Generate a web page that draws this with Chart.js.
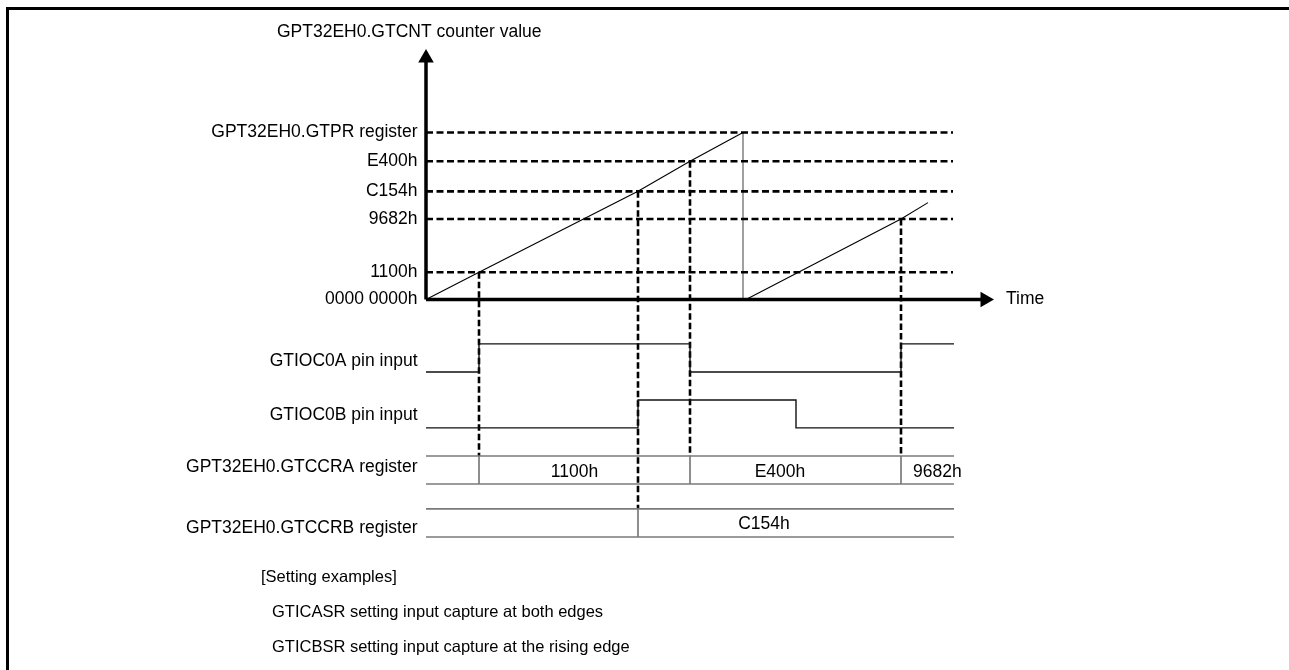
<!DOCTYPE html>
<html>
<head>
<meta charset="utf-8">
<script src="https://cdn.jsdelivr.net/npm/chart.js@4.4.0/dist/chart.umd.min.js"></script>
<style>
html, body { margin: 0; padding: 0; background: #fff; }
#wrap { position: relative; width: 1289px; height: 670px; overflow: hidden; }
#chart { position: absolute; left: 0; top: 0; }
#frame { position: absolute; left: 6px; top: 7px; width: 1400px; height: 800px;
         border-left: 3px solid #000; border-top: 3px solid #000; pointer-events: none; }
</style>
</head>
<body>
<div id="wrap">
  <canvas id="chart" width="1289" height="670"></canvas>
  <div id="frame"></div>
</div>
<script>
// time is in arbitrary units from the origin, counter in % of GTPR
const levelNames = ['GPT32EH0.GTPR register', 'E400h', 'C154h', '9682h', '1100h', '0000 0000h'];
const levelValues = [100, 82.8, 64.8, 48.2, 16.3, 0];

const rampTimes1 = [0, 5.3, 21.2, 26.4, 31.7];
const rampValues1 = [0, 16.3, 64.8, 82.8, 100];
const rampTimes2 = [32.0, 47.5, 50.2];
const rampValues2 = [0, 48.2, 58.0];
const overflowTime = 31.7;

// capture events: time, counter level, register row (0 = GTCCRA, 1 = GTCCRB)
const captureTimes = [5.3, 21.2, 26.4, 47.5];
const captureLevels = [16.3, 64.8, 82.8, 48.2];
const captureRows = [0, 1, 0, 0];

const pinATimes = [0, 5.3, 26.4, 47.5, 52.8];
const pinAStates = [0, 1, 0, 1, 1];
const pinBTimes = [0, 21.2, 37.0, 52.8];
const pinBStates = [0, 1, 0, 0];

const ccraTimes = [5.3, 26.4, 47.5];
const ccraValues = ['1100h', 'E400h', '9682h'];
const ccrbTimes = [21.2];
const ccrbValues = ['C154h'];

const rowNames = ['GTIOC0A pin input', 'GTIOC0B pin input', 'GPT32EH0.GTCCRA register', 'GPT32EH0.GTCCRB register'];
const notes = ['[Setting examples]', 'GTICASR setting input capture at both edges', 'GTICBSR setting input capture at the rising edge'];

// layout
const X_MAX = 57.4, Y_MIN = -215.9, Y_MAX = 155.4;
const END_T = 52.8, DASH_END_T = 52.7, ARROW_T = 55.9, ARROW_V = 144.6;
const rowLow = [-43.4, -76.9, -110.5, -142.2];
const rowHigh = [-26.6, -60.2, -93.7, -125.4];
const rowLabelAt = [-36.8, -69.2, -100.3, -136.8];
const ccraLabelAt = [14.85, 35.4, 48.7];
const ccrbLabelAt = [33.8];
const FONT = '17.5px "Liberation Sans", Arial, sans-serif';
const NOTE_FONT = '16.5px "Liberation Sans", Arial, sans-serif';

function pts(xs, ys) {
    return xs.map((t, i) => ({ x: t, y: ys[i] }));
}
function line(data, color, width, extra = {}) {
    return Object.assign({
        data: data,
        borderColor: color,
        borderWidth: width,
        pointRadius: 0,
        fill: false,
        tension: 0,
        clip: false
    }, extra);
}

const datasets = [];

// axes with arrow heads
datasets.push(line([{ x: 0, y: 0 }, { x: ARROW_T, y: 0 }], '#000', 3.5, {
    pointRadius: [0, 9], pointStyle: 'triangle', pointRotation: 90,
    pointBackgroundColor: '#000', pointBorderWidth: 0
}));
datasets.push(line([{ x: 0, y: 0 }, { x: 0, y: ARROW_V }], '#000', 3.5, {
    pointRadius: [0, 9], pointStyle: 'triangle', pointRotation: 0,
    pointBackgroundColor: '#000', pointBorderWidth: 0
}));

// dashed counter levels
levelValues.forEach(v => {
    if (v > 0)
        datasets.push(line([{ x: 0, y: v }, { x: DASH_END_T, y: v }], '#000', 2.7, { borderDash: [7, 3.5] }));
});

// counter ramps
datasets.push(line(pts(rampTimes1, rampValues1), '#000', 1.1));
datasets.push(line([{ x: overflowTime, y: 100 }, { x: overflowTime, y: 0 }], '#808080', 1.5));
datasets.push(line(pts(rampTimes2, rampValues2), '#000', 1.1));

// pin inputs
const lvl = (states, row) => states.map(s => s ? rowHigh[row] : rowLow[row]);
datasets.push(line(pts(pinATimes, lvl(pinAStates, 0)), '#111', 1.4, { stepped: true }));
datasets.push(line(pts(pinBTimes, lvl(pinBStates, 1)), '#111', 1.4, { stepped: true }));

// register bands
[ccraTimes, ccrbTimes].forEach((times, r) => {
    const row = r + 2;
    datasets.push(line([{ x: 0, y: rowHigh[row] }, { x: END_T, y: rowHigh[row] }], '#7a7a7a', 1.6));
    datasets.push(line([{ x: 0, y: rowLow[row] }, { x: END_T, y: rowLow[row] }], '#7a7a7a', 1.6));
    times.forEach(t => {
        datasets.push(line([{ x: t, y: rowHigh[row] }, { x: t, y: rowLow[row] }], '#444', 1.2));
    });
});

// capture markers
captureTimes.forEach((t, i) => {
    const bandTop = rowHigh[captureRows[i] + 2];
    datasets.push(line([{ x: t, y: captureLevels[i] }, { x: t, y: bandTop }], '#000', 2.6, { borderDash: [6.5, 3] }));
});

const labelPlugin = {
    id: 'labels',
    afterDatasetsDraw(chart) {
        const { ctx, scales: { x, y } } = chart;
        const right = x.left - 8.5;
        ctx.save();
        ctx.fillStyle = '#000';
        ctx.font = FONT;
        ctx.textBaseline = 'middle';

        ctx.textAlign = 'right';
        levelNames.forEach((name, i) => ctx.fillText(name, right, y.getPixelForValue(levelValues[i])));
        rowNames.forEach((name, i) => ctx.fillText(name, right, y.getPixelForValue(rowLabelAt[i])));

        ctx.textAlign = 'left';
        ctx.fillText('GPT32EH0.GTCNT counter value', 277, 32);
        ctx.fillText('Time', x.getPixelForValue(ARROW_T) + 21, y.getPixelForValue(0));

        const midA = (y.getPixelForValue(rowHigh[2]) + y.getPixelForValue(rowLow[2])) / 2 + 2;
        const midB = (y.getPixelForValue(rowHigh[3]) + y.getPixelForValue(rowLow[3])) / 2 + 1;
        ccraValues.forEach((v, i) => {
            ctx.textAlign = i == ccraValues.length - 1 ? 'left' : 'center';
            ctx.fillText(v, x.getPixelForValue(ccraLabelAt[i]), midA);
        });
        ctx.textAlign = 'center';
        ccrbValues.forEach((v, i) => ctx.fillText(v, x.getPixelForValue(ccrbLabelAt[i]), midB));

        ctx.textAlign = 'left';
        ctx.font = NOTE_FONT;
        ctx.fillText(notes[0], 261, 577);
        ctx.fillText(notes[1], 272, 612);
        ctx.fillText(notes[2], 272, 647);
        ctx.restore();
    }
};

new Chart(document.getElementById('chart'), {
    type: 'line',
    data: { datasets: datasets },
    options: {
        responsive: false,
        animation: false,
        events: [],
        layout: { padding: { left: 426, top: 40, right: 289, bottom: 10 } },
        plugins: { legend: { display: false }, tooltip: { enabled: false } },
        scales: {
            x: { type: 'linear', min: 0, max: X_MAX, display: false },
            y: { type: 'linear', min: Y_MIN, max: Y_MAX, display: false }
        }
    },
    plugins: [labelPlugin]
});
</script>
</body>
</html>
